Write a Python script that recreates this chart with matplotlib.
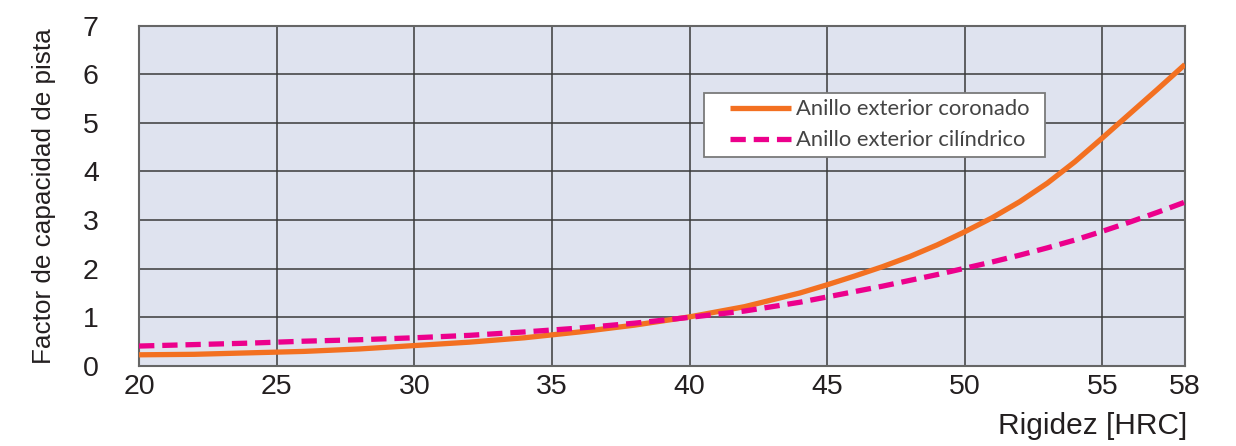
import matplotlib
matplotlib.use("Agg")
import matplotlib.pyplot as plt
from matplotlib.patches import Rectangle

hrc = [20, 22, 24, 26, 28, 30, 32, 34, 36, 38, 40, 42, 44, 45, 46, 47, 48, 49, 50,
       51, 52, 53, 54, 55, 56, 57, 58]
coronado = [0.23, 0.24, 0.27, 0.30, 0.35, 0.42, 0.49, 0.58, 0.70, 0.84, 1.01,
            1.22, 1.50, 1.67, 1.85, 2.04, 2.25, 2.49, 2.76, 3.05, 3.38, 3.76, 4.20,
            4.69, 5.19, 5.69, 6.20]
cilindrico = [0.41, 0.44, 0.47, 0.51, 0.54, 0.58, 0.63, 0.70, 0.78, 0.88, 1.00,
              1.13, 1.31, 1.42, 1.53, 1.64, 1.76, 1.88, 2.01, 2.14, 2.28, 2.43, 2.59,
              2.77, 2.96, 3.16, 3.37]
xticks = [20, 25, 30, 35, 40, 45, 50, 55, 58]
yticks = [0, 1, 2, 3, 4, 5, 6, 7]
labels = ["Anillo exterior coronado", "Anillo exterior cilíndrico"]

plt.rcParams['font.family'] = ['Liberation Sans', 'DejaVu Sans']

fig = plt.figure(figsize=(12.36, 4.46), dpi=100)
ax = fig.add_axes([0.1125, 0.1794, 0.8462, 0.7632])
ax.set_facecolor('#dfe3ef')

l1, = ax.plot(hrc, coronado, color='#f37021', lw=3.8, solid_capstyle='butt',
              solid_joinstyle='round', zorder=3)
l2, = ax.plot(hrc, cilindrico, color='#ec008c', lw=3.8, dashes=(2.9, 1.5), zorder=3)

ax.set_xlim(20, 58)
ax.set_ylim(0, 7)
ax.set_xticks(xticks)
ax.set_yticks(yticks)
ax.grid(True, color='#3a3a3a', lw=1.1, zorder=1)
ax.set_axisbelow(True)
for s in ax.spines.values():
    s.set_color('#666666')
    s.set_linewidth(1.5)
ax.tick_params(axis='both', length=0, labelsize=20.5, colors='#231f20')
ax.tick_params(axis='y', pad=29)
ax.tick_params(axis='x', pad=6)

ax.set_ylabel("Factor de capacidad de pista", fontsize=18.8, color='#231f20')
ax.yaxis.set_label_coords(-0.079, 0.5)
fig.text(0.9603, 0.045, "Rigidez [HRC]", ha='right', va='center', fontsize=21.5, color='#231f20')

# legend box
bx0 = (704 - 139) / 1046
by1 = (366.5 - 93) / 341
by0 = (366.5 - 157) / 341
bx1 = (1045 - 139) / 1046
ax.add_patch(Rectangle((bx0, by0), bx1 - bx0, by1 - by0, transform=ax.transAxes,
                       facecolor='white', edgecolor='#7a7a7a', lw=1.3, zorder=4))
leg = ax.legend([l1, l2], labels, loc='upper left',
                bbox_to_anchor=(bx0 + 0.021, by1 - 0.006), frameon=False,
                prop={'family': 'Lato', 'size': 15.8}, handlelength=2.75,
                handletextpad=0.25, labelspacing=0.5, borderpad=0.2, borderaxespad=0)
leg.set_zorder(5)
for t in leg.get_texts():
    t.set_color('#444444')

fig.savefig("out.png", dpi=100)
